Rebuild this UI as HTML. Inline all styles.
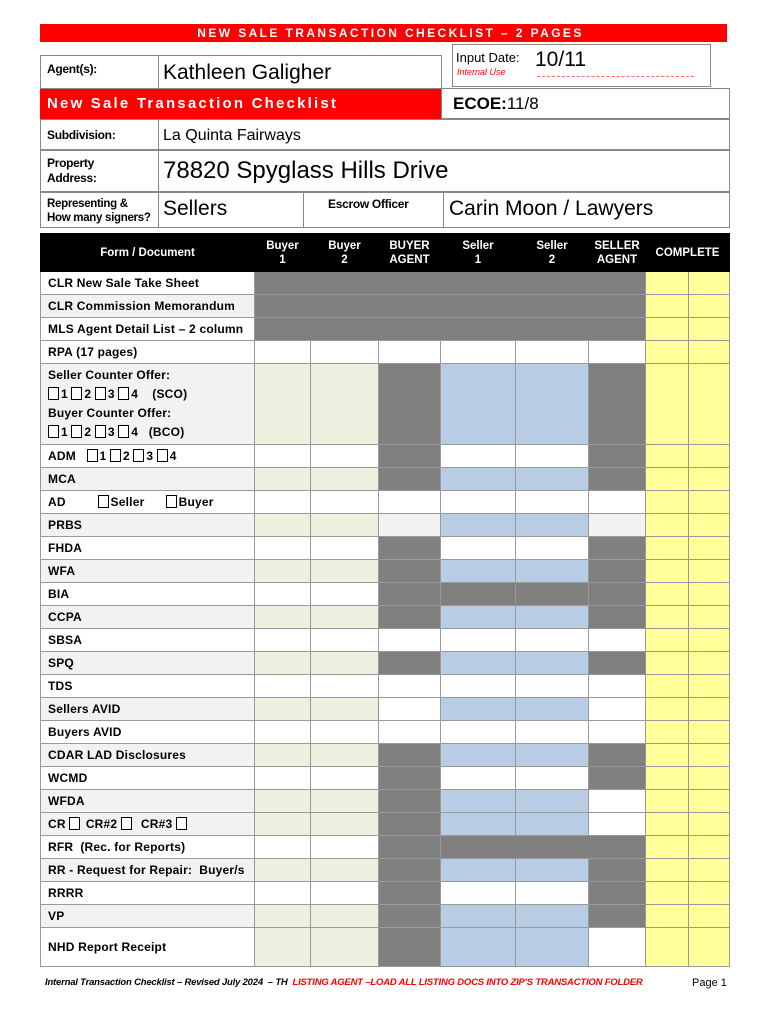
<!DOCTYPE html>
<html><head><meta charset="utf-8"><style>
body{margin:0;width:770px;height:1024px;background:#fff;position:relative;font-family:"Liberation Sans",Arial,sans-serif;overflow:hidden}
.a{position:absolute;box-sizing:border-box}
.b{border:1px solid #888}
.lbl{font-weight:bold;font-size:12px;letter-spacing:-0.3px;line-height:15px}
table{position:absolute;left:40px;top:233px;border-collapse:collapse;table-layout:fixed}
td{border:1px solid #999;padding:0;font-size:12px;font-weight:bold;height:22px}
td.l{padding-left:7px;letter-spacing:0.2px}
.W{background:#fff}.G{background:#ebf1de}.D{background:#808080}.B{background:#b8cce4}.L{background:#f2f2f2}.Y{background:#ffff99}
th{background:#000;color:#fff;font-size:11.5px;font-weight:bold;line-height:14px;height:35px;border:1px solid #000}
.cb{display:inline-block;width:9px;height:11px;border:1px solid #000;vertical-align:-2px;margin-right:2px;background:#fff}
</style></head><body>
<div class="a" style="left:40px;top:24px;width:687px;height:18px;background:#f00;color:#fff;text-align:center;font-weight:bold;font-size:12px;letter-spacing:2.4px;line-height:18px;padding-left:14px">NEW SALE TRANSACTION CHECKLIST – 2 PAGES</div>
<div class="a b" style="left:40px;top:55px;width:402px;height:34px"></div>
<div class="a b" style="left:40px;top:55px;width:119px;height:34px"></div>
<div class="a lbl" style="left:47px;top:62px">Agent(s):</div>
<div class="a" style="left:163px;top:61px;font-size:21px">Kathleen Galigher</div>
<div class="a b" style="left:452px;top:44px;width:259px;height:43px"></div>
<div class="a" style="left:456px;top:50px;font-size:13px">Input Date:</div>
<div class="a" style="left:535px;top:48px;font-size:21px">10/11</div>
<div class="a" style="left:457px;top:67px;font-size:9px;color:#f00;font-style:italic">Internal Use</div>
<div class="a" style="left:537px;top:76px;width:157px;border-top:1px dashed #f66"></div>
<div class="a" style="left:40px;top:89px;width:402px;height:30px;background:#f00;color:#fff;font-weight:bold;font-size:15px;letter-spacing:2.2px;line-height:29px;padding-left:7px">New Sale Transaction Checklist</div>
<div class="a b" style="left:441px;top:88px;width:289px;height:31px"></div>
<div class="a" style="left:453px;top:94px;font-size:17px"><b>ECOE:</b>11/8</div>
<div class="a b" style="left:40px;top:119px;width:690px;height:31px"></div>
<div class="a b" style="left:40px;top:119px;width:119px;height:31px"></div>
<div class="a lbl" style="left:47px;top:128px">Subdivision:</div>
<div class="a" style="left:163px;top:127px;font-size:16px">La Quinta Fairways</div>
<div class="a b" style="left:40px;top:150px;width:690px;height:42px"></div>
<div class="a b" style="left:40px;top:150px;width:119px;height:42px"></div>
<div class="a lbl" style="left:47px;top:156px">Property<br>Address:</div>
<div class="a" style="left:163px;top:157px;font-size:24px">78820 Spyglass Hills Drive</div>
<div class="a b" style="left:40px;top:192px;width:690px;height:36px"></div>
<div class="a b" style="left:40px;top:192px;width:119px;height:36px"></div>
<div class="a b" style="left:158px;top:192px;width:146px;height:36px"></div>
<div class="a b" style="left:303px;top:192px;width:141px;height:36px"></div>
<div class="a lbl" style="left:47px;top:197px;font-size:11.5px;line-height:14px">Representing &amp;<br>How many signers?</div>
<div class="a" style="left:163px;top:197px;font-size:21px">Sellers</div>
<div class="a lbl" style="left:328px;top:197px">Escrow Officer</div>
<div class="a" style="left:449px;top:197px;font-size:21px">Carin Moon / Lawyers</div>
<table>
<colgroup><col style="width:214px"><col style="width:56px"><col style="width:68px"><col style="width:62px"><col style="width:75px"><col style="width:73px"><col style="width:57px"><col style="width:43px"><col style="width:41px"></colgroup>
<tr><th>Form / Document</th><th>Buyer<br>1</th><th>Buyer<br>2</th><th>BUYER<br>AGENT</th><th>Seller<br>1</th><th>Seller<br>2</th><th>SELLER<br>AGENT</th><th colspan="2">COMPLETE</th></tr>
<tr><td class="l W">CLR New Sale Take Sheet</td><td class="D" colspan="6"></td><td class="Y"></td><td class="Y"></td></tr>
<tr><td class="l L">CLR Commission Memorandum</td><td class="D" colspan="6"></td><td class="Y"></td><td class="Y"></td></tr>
<tr><td class="l W">MLS Agent Detail List – 2 column</td><td class="D" colspan="6"></td><td class="Y"></td><td class="Y"></td></tr>
<tr><td class="l W">RPA (17 pages)</td><td class="W"></td><td class="W"></td><td class="W"></td><td class="W"></td><td class="W"></td><td class="W"></td><td class="Y"></td><td class="Y"></td></tr>
<tr><td class="l L" style="height:80px;line-height:19px">Seller Counter Offer:<br><span class="cb"></span>1 <span class="cb"></span>2 <span class="cb"></span>3 <span class="cb"></span>4 &nbsp;&nbsp;&nbsp;(SCO)<br>Buyer Counter Offer:<br><span class="cb"></span>1 <span class="cb"></span>2 <span class="cb"></span>3 <span class="cb"></span>4 &nbsp;&nbsp;(BCO)</td><td class="G"></td><td class="G"></td><td class="D"></td><td class="B"></td><td class="B"></td><td class="D"></td><td class="Y"></td><td class="Y"></td></tr>
<tr><td class="l W">ADM &nbsp;&nbsp;<span class="cb"></span>1 <span class="cb"></span>2 <span class="cb"></span>3 <span class="cb"></span>4</td><td class="W"></td><td class="W"></td><td class="D"></td><td class="W"></td><td class="W"></td><td class="D"></td><td class="Y"></td><td class="Y"></td></tr>
<tr><td class="l L">MCA</td><td class="G"></td><td class="G"></td><td class="D"></td><td class="B"></td><td class="B"></td><td class="D"></td><td class="Y"></td><td class="Y"></td></tr>
<tr><td class="l W">AD &nbsp;&nbsp;&nbsp;&nbsp;&nbsp;&nbsp;&nbsp;&nbsp;<span class="cb"></span>Seller &nbsp;&nbsp;&nbsp;&nbsp;&nbsp;<span class="cb"></span>Buyer</td><td class="W"></td><td class="W"></td><td class="W"></td><td class="W"></td><td class="W"></td><td class="W"></td><td class="Y"></td><td class="Y"></td></tr>
<tr><td class="l L">PRBS</td><td class="G"></td><td class="G"></td><td class="L"></td><td class="B"></td><td class="B"></td><td class="L"></td><td class="Y"></td><td class="Y"></td></tr>
<tr><td class="l W">FHDA</td><td class="W"></td><td class="W"></td><td class="D"></td><td class="W"></td><td class="W"></td><td class="D"></td><td class="Y"></td><td class="Y"></td></tr>
<tr><td class="l L">WFA</td><td class="G"></td><td class="G"></td><td class="D"></td><td class="B"></td><td class="B"></td><td class="D"></td><td class="Y"></td><td class="Y"></td></tr>
<tr><td class="l W">BIA</td><td class="W"></td><td class="W"></td><td class="D"></td><td class="D"></td><td class="D"></td><td class="D"></td><td class="Y"></td><td class="Y"></td></tr>
<tr><td class="l L">CCPA</td><td class="G"></td><td class="G"></td><td class="D"></td><td class="B"></td><td class="B"></td><td class="D"></td><td class="Y"></td><td class="Y"></td></tr>
<tr><td class="l W">SBSA</td><td class="W"></td><td class="W"></td><td class="W"></td><td class="W"></td><td class="W"></td><td class="W"></td><td class="Y"></td><td class="Y"></td></tr>
<tr><td class="l L">SPQ</td><td class="G"></td><td class="G"></td><td class="D"></td><td class="B"></td><td class="B"></td><td class="D"></td><td class="Y"></td><td class="Y"></td></tr>
<tr><td class="l W">TDS</td><td class="W"></td><td class="W"></td><td class="W"></td><td class="W"></td><td class="W"></td><td class="W"></td><td class="Y"></td><td class="Y"></td></tr>
<tr><td class="l L">Sellers AVID</td><td class="G"></td><td class="G"></td><td class="W"></td><td class="B"></td><td class="B"></td><td class="W"></td><td class="Y"></td><td class="Y"></td></tr>
<tr><td class="l W">Buyers AVID</td><td class="W"></td><td class="W"></td><td class="W"></td><td class="W"></td><td class="W"></td><td class="W"></td><td class="Y"></td><td class="Y"></td></tr>
<tr><td class="l L">CDAR LAD Disclosures</td><td class="G"></td><td class="G"></td><td class="D"></td><td class="B"></td><td class="B"></td><td class="D"></td><td class="Y"></td><td class="Y"></td></tr>
<tr><td class="l W">WCMD</td><td class="W"></td><td class="W"></td><td class="D"></td><td class="W"></td><td class="W"></td><td class="D"></td><td class="Y"></td><td class="Y"></td></tr>
<tr><td class="l L">WFDA</td><td class="G"></td><td class="G"></td><td class="D"></td><td class="B"></td><td class="B"></td><td class="W"></td><td class="Y"></td><td class="Y"></td></tr>
<tr><td class="l L">CR <span class="cb"></span> CR#2 <span class="cb"></span> &nbsp;CR#3 <span class="cb"></span></td><td class="G"></td><td class="G"></td><td class="D"></td><td class="B"></td><td class="B"></td><td class="W"></td><td class="Y"></td><td class="Y"></td></tr>
<tr><td class="l W">RFR &nbsp;(Rec. for Reports)</td><td class="W"></td><td class="W"></td><td class="D"></td><td class="D" colspan="3"></td><td class="Y"></td><td class="Y"></td></tr>
<tr><td class="l L">RR - Request for Repair: &nbsp;Buyer/s</td><td class="G"></td><td class="G"></td><td class="D"></td><td class="B"></td><td class="B"></td><td class="D"></td><td class="Y"></td><td class="Y"></td></tr>
<tr><td class="l W">RRRR</td><td class="W"></td><td class="W"></td><td class="D"></td><td class="W"></td><td class="W"></td><td class="D"></td><td class="Y"></td><td class="Y"></td></tr>
<tr><td class="l L">VP</td><td class="G"></td><td class="G"></td><td class="D"></td><td class="B"></td><td class="B"></td><td class="D"></td><td class="Y"></td><td class="Y"></td></tr>
<tr><td class="l W" style="height:38px;border-top:1px solid #000">NHD Report Receipt</td><td class="G"></td><td class="G"></td><td class="D"></td><td class="B"></td><td class="B"></td><td class="W"></td><td class="Y"></td><td class="Y"></td></tr>
</table>
<div class="a" style="left:45px;top:977px;font-size:9.5px;font-weight:bold;font-style:italic;letter-spacing:-0.2px">Internal Transaction Checklist – Revised July 2024 &nbsp;– TH &nbsp;<span style="color:#f00">LISTING AGENT –LOAD ALL LISTING DOCS INTO ZIP'S TRANSACTION FOLDER</span></div>
<div class="a" style="left:692px;top:977px;font-size:11px">Page 1</div>
</body></html>
